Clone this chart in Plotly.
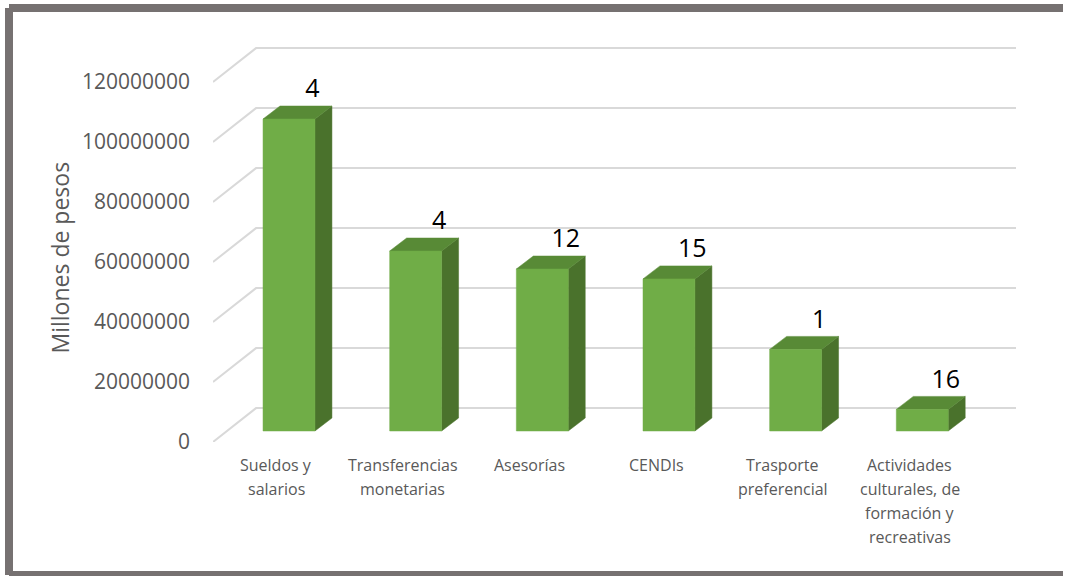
import plotly.graph_objects as go

# ---- data ----
category_lines = [
    ["Sueldos y", "salarios"],
    ["Transferencias", "monetarias"],
    ["Asesorías"],
    ["CENDIs"],
    ["Trasporte", "preferencial"],
    ["Actividades", "culturales, de", "formación y", "recreativas"],
]
values = [104000000, 60000000, 54000000, 50700000, 27200000, 7200000]
counts = ["4", "4", "12", "15", "1", "16"]
y_ticks = [0, 20000000, 40000000, 60000000, 80000000, 100000000, 120000000]
y_ticktext = [str(v) for v in y_ticks]

# ---- pseudo-3D geometry (in axis units) ----
X_MIN, X_MAX = -0.5, 5.84
Y_MAX = 134e6
WALL_DX, WALL_DY = 0.34, 11.3e6      # front plane -> back wall offset
BAR_DX, BAR_BASE = 0.10, 3.67e6      # bar front face offset from front plane
BAR_W = 0.41
DEPTH_DX, DEPTH_DY = 0.134, 4.33e6   # bar depth
LABEL_DX, LABEL_DY = 0.185, 9.3e6

FRONT = "#70AD47"
TOP = "#588A36"
SIDE = "#4A722C"
GRID = "#D9D9D9"
TEXT = "#595959"
FONT = "Open Sans"

fig = go.Figure()

# gridlines: diagonal on the left wall, then horizontal on the back wall
for v in y_ticks:
    fig.add_trace(go.Scatter(
        x=[X_MIN, X_MIN + WALL_DX, X_MAX],
        y=[v, v + WALL_DY, v + WALL_DY],
        mode="lines", line=dict(color=GRID, width=2),
        hoverinfo="skip", showlegend=False))

# bars
for i, v in enumerate(values):
    x0 = i + BAR_DX - BAR_W / 2
    x1 = i + BAR_DX + BAR_W / 2
    b = BAR_BASE
    t = BAR_BASE + v
    # side face
    fig.add_trace(go.Scatter(
        x=[x1, x1, x1 + DEPTH_DX, x1 + DEPTH_DX, x1],
        y=[b, t, t + DEPTH_DY, b + DEPTH_DY, b],
        fill="toself", fillcolor=SIDE, mode="lines",
        line=dict(color=SIDE, width=0.5),
        hoverinfo="skip", showlegend=False))
    # top face
    fig.add_trace(go.Scatter(
        x=[x0, x1, x1 + DEPTH_DX, x0 + DEPTH_DX, x0],
        y=[t, t, t + DEPTH_DY, t + DEPTH_DY, t],
        fill="toself", fillcolor=TOP, mode="lines",
        line=dict(color=TOP, width=0.5),
        hoverinfo="skip", showlegend=False))
    # front face
    fig.add_trace(go.Scatter(
        x=[x0, x1, x1, x0, x0],
        y=[b, b, t, t, b],
        fill="toself", fillcolor=FRONT, mode="lines",
        line=dict(color=FRONT, width=0.5),
        hoverinfo="skip", showlegend=False))

# data labels
fig.add_trace(go.Scatter(
    x=[i + BAR_DX + LABEL_DX for i in range(len(values))],
    y=[BAR_BASE + v + LABEL_DY for v in values],
    text=counts, mode="text",
    textfont=dict(family=FONT, size=25, color="#000000"),
    hoverinfo="skip", showlegend=False))

# category labels (line by line)
for i, lines in enumerate(category_lines):
    for k, line in enumerate(lines):
        fig.add_annotation(
            x=i, y=0, xref="x", yref="y", text=line, showarrow=False,
            xanchor="center", yanchor="middle", yshift=-23 - 24 * k,
            font=dict(family=FONT, size=16, color=TEXT))

# y axis title
fig.add_annotation(
    x=-0.19, y=0.46, xref="paper", yref="paper", text="Millones de pesos",
    showarrow=False, textangle=-90, xanchor="center", yanchor="middle",
    font=dict(family=FONT, size=23, color=TEXT))

# frame: separate left, top and bottom bars (no right side)
FRAME = "#767171"
fx0 = (9 - 213) / 803
fx1 = (1063 - 213) / 803
fy0 = (442 - 575) / 402
fy1 = (442 - 8) / 402
for (a, b_, c, d) in [(fx0, fy1, fx1, fy1), (fx0, fy1, fx0, fy0), (fx0, fy0, fx1, fy0)]:
    fig.add_shape(type="line", xref="paper", yref="paper",
                  x0=a, y0=b_, x1=c, y1=d,
                  line=dict(color=FRAME, width=8))

fig.update_layout(
    width=1065, height=576,
    margin=dict(l=213, r=49, t=40, b=134),
    paper_bgcolor="white", plot_bgcolor="white",
    showlegend=False,
    xaxis=dict(range=[X_MIN, X_MAX], showgrid=False, zeroline=False,
               showticklabels=False, showline=False, fixedrange=True),
    yaxis=dict(range=[0, Y_MAX], showgrid=False, zeroline=False,
               showline=False, tickvals=y_ticks, ticktext=y_ticktext,
               ticks="", ticklabelstandoff=22,
               tickfont=dict(family=FONT, size=21, color=TEXT),
               fixedrange=True),
)

fig.write_html(
    "out.html",
    config={"displayModeBar": False},
    post_script="document.body.style.margin='0';document.body.style.overflow='hidden';",
)
